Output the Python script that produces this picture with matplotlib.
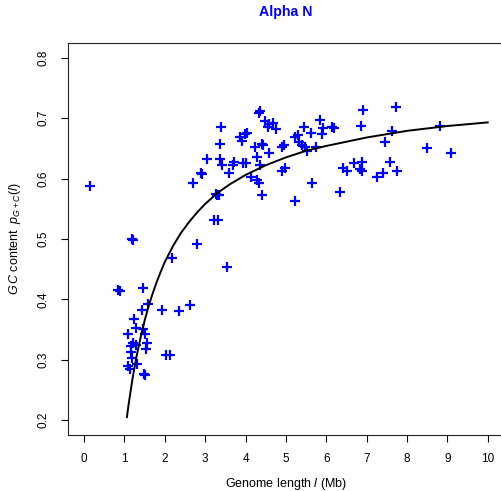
import matplotlib
matplotlib.use("Agg")
import matplotlib.pyplot as plt

plt.rcParams['font.family'] = ['Liberation Sans', 'DejaVu Sans']
plt.rcParams['mathtext.fontset'] = 'custom'
plt.rcParams['mathtext.rm'] = 'Liberation Sans'
plt.rcParams['mathtext.it'] = 'Liberation Sans:italic'

# genome length (Mb) and GC content of each genome
genome_len = [
    0.15, 1.19, 1.21, 2.80, 2.18, 3.54, 0.84, 0.89, 1.46, 1.59,
    1.44, 1.93, 2.35, 2.63, 1.24, 1.29, 1.46, 1.09, 1.51, 1.21,
    1.29, 1.16, 1.56, 1.54, 1.16, 2.03, 2.13, 1.19, 1.09, 1.31,
    1.14, 1.49, 1.51,
    2.70, 2.90, 2.92, 3.05, 3.27, 3.30, 3.35, 3.22, 3.32, 3.40,
    3.37, 3.37, 3.42, 3.59, 3.72, 3.69, 3.94, 4.01, 3.87, 3.92,
    3.99, 4.04, 4.24, 4.41, 4.44, 4.29, 4.58, 4.14, 4.29, 4.34,
    4.41, 4.36, 4.34, 4.49, 4.58, 4.68, 4.56, 4.76, 4.36,
    6.91, 6.86, 5.85, 5.45, 5.23, 5.30, 5.63, 5.92, 5.90, 6.15,
    6.20, 5.33, 5.40, 5.48, 5.53, 5.75, 4.91, 4.96, 4.98, 4.91,
    5.65, 5.23, 6.34, 6.42, 6.52, 6.69, 6.84, 6.89, 6.89,
    7.73, 7.63, 8.82, 7.46, 8.50, 9.10, 7.58, 7.26, 7.41, 7.76,
]
gc_content = [
    0.587, 0.500, 0.499, 0.492, 0.468, 0.453, 0.415, 0.413, 0.418, 0.392,
    0.383, 0.383, 0.380, 0.390, 0.367, 0.353, 0.350, 0.343, 0.343, 0.327,
    0.325, 0.323, 0.327, 0.317, 0.312, 0.307, 0.307, 0.302, 0.290, 0.293,
    0.285, 0.277, 0.275,
    0.593, 0.610, 0.607, 0.633, 0.575, 0.572, 0.573, 0.532, 0.532, 0.685,
    0.657, 0.632, 0.622, 0.610, 0.627, 0.622, 0.625, 0.625, 0.668, 0.663,
    0.673, 0.675, 0.653, 0.657, 0.655, 0.635, 0.642, 0.603, 0.597, 0.592,
    0.572, 0.712, 0.708, 0.695, 0.690, 0.692, 0.685, 0.682, 0.622,
    0.713, 0.687, 0.697, 0.685, 0.668, 0.672, 0.675, 0.683, 0.673, 0.685,
    0.683, 0.660, 0.655, 0.652, 0.645, 0.652, 0.652, 0.655, 0.618, 0.613,
    0.592, 0.562, 0.577, 0.617, 0.612, 0.625, 0.615, 0.627, 0.612,
    0.718, 0.678, 0.687, 0.660, 0.650, 0.643, 0.628, 0.602, 0.610, 0.612,
]

# fitted curve
fit_len = [1.06, 1.1, 1.2, 1.3, 1.4, 1.5, 1.6, 1.7, 1.8, 1.9, 2.0, 2.2, 2.4,
           2.6, 2.8, 3.0, 3.3, 3.6, 4.0, 4.5, 5.0, 5.5, 6.0, 7.0, 8.0, 9.0, 10.0]
fit_gc = [0.205, 0.225, 0.269, 0.306, 0.337, 0.365, 0.389, 0.410, 0.429, 0.446,
          0.462, 0.488, 0.510, 0.528, 0.544, 0.558, 0.576, 0.590, 0.606, 0.622,
          0.635, 0.646, 0.654, 0.668, 0.679, 0.687, 0.693]

x_ticks = [0, 1, 2, 3, 4, 5, 6, 7, 8, 9, 10]
y_ticks = [0.2, 0.3, 0.4, 0.5, 0.6, 0.7, 0.8]

fig = plt.figure(figsize=(5.01, 4.91), dpi=100)
ax = fig.add_axes([0.1357, 0.115, 0.870, 0.7968])

ax.plot(genome_len, gc_content, linestyle='none', marker='+', color='#0000ff',
        markersize=7.5, markeredgewidth=1.6)
ax.plot(fit_len, fit_gc, color='black', linewidth=1.4)

ax.set_xlim(-0.4, 10.4)
ax.set_ylim(0.176, 0.824)
ax.set_xticks(x_ticks)
ax.set_xticklabels([str(t) for t in x_ticks])
ax.set_yticks(y_ticks)
ax.set_yticklabels(['%.1f' % t for t in y_ticks], rotation=90, va='center')
ax.tick_params(direction='out', length=5, width=0.8, labelsize=8.5, pad=8, colors='black')
ax.tick_params(axis='x', pad=8.5)

for s in ax.spines.values():
    s.set_linewidth(0.8)
    s.set_color('#222222')

ax.set_xlabel(r'Genome length $l$ (Mb)', fontsize=9, labelpad=7.5)
ax.set_ylabel(r'$G\,C$ content  $p_{G+C}(l)$', fontsize=9, labelpad=11)
ax.set_title('Alpha N', color='#0000ff', fontweight='bold', fontsize=10.2, pad=19.5)

fig.savefig('out.png', dpi=100)
